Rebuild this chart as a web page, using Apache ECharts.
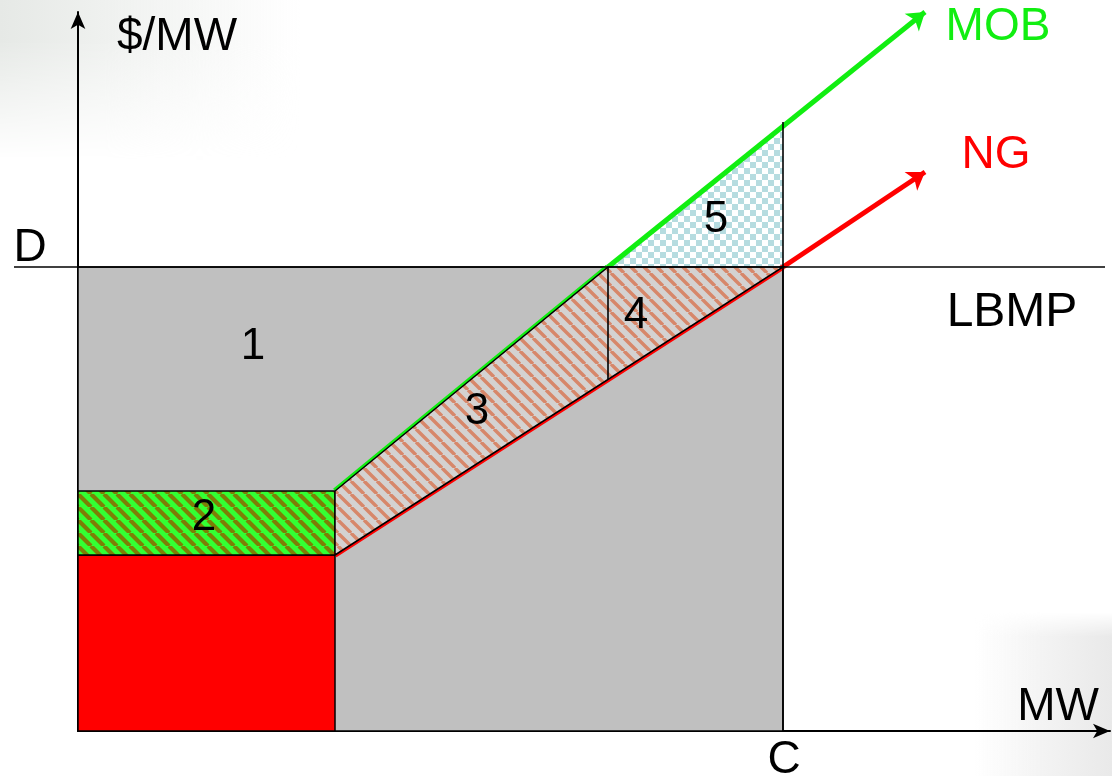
<!DOCTYPE html>
<html>
<head>
<meta charset="utf-8">
<script src="https://cdn.jsdelivr.net/npm/echarts@6/dist/echarts.min.js"></script>
<style>
html,body{margin:0;padding:0;background:#fff;}
body{width:1112px;height:776px;overflow:hidden;position:relative;}
#tl{position:absolute;left:0;top:0;width:300px;height:160px;
 background:linear-gradient(to right, #e6e9e6 0%, #eff1ef 35%, rgba(255,255,255,0) 100%);
 -webkit-mask-image:linear-gradient(to bottom, #000 0%, #000 25%, rgba(0,0,0,0) 100%);
 mask-image:linear-gradient(to bottom, #000 0%, #000 25%, rgba(0,0,0,0) 100%);}
#br{position:absolute;left:975px;top:612px;width:137px;height:164px;
 background:linear-gradient(to right, rgba(255,255,255,0) 0%, #f3f3f3 50%, #e9e9e9 100%);
 -webkit-mask-image:linear-gradient(to bottom, rgba(0,0,0,0) 0%, #000 15%, #000 100%);
 mask-image:linear-gradient(to bottom, rgba(0,0,0,0) 0%, #000 15%, #000 100%);}
#chart{position:absolute;left:0;top:0;width:1112px;height:776px;}
</style>
</head>
<body>
<div id="tl"></div>
<div id="br"></div>
<div id="chart"></div>
<script>
// ---- data (units: MW on x, $/MW on y, arbitrary scale) ----
const xMax = 1032;
const yMax = 719;
const capacityC = 705;       // C
const flatMW = 257;          // end of flat part of the curves
const priceD = 464;          // LBMP level D
const ngFlat = 176;          // NG flat price
const mobFlat = 240;         // MOB flat price
const mobAtD = 530;          // MW where MOB meets D
const ngAtMobD = 352;        // NG price at that MW
const mobAtC = 603;          // MOB price at C
const ngCurve = [[flatMW, ngFlat], [capacityC, priceD], [847, 559]];
const mobCurve = [[flatMW, mobFlat], [mobAtD, priceD], [847, 719]];
const regionNames = ['1', 'red', '2', '5', '3-4'];
const regionPolys = [
  [[0, 0], [capacityC, 0], [capacityC, priceD], [0, priceD]],
  [[0, 0], [flatMW, 0], [flatMW, ngFlat], [0, ngFlat]],
  [[0, ngFlat], [flatMW, ngFlat], [flatMW, mobFlat], [0, mobFlat]],
  [[mobAtD, priceD], [capacityC, priceD], [capacityC, mobAtC]],
  [[flatMW, ngFlat], [capacityC, priceD], [mobAtD, priceD], [flatMW, mobFlat]]
];
const regionLabels = [['1', 175, 384], ['2', 126, 213], ['3', 399, 319], ['4', 558, 415], ['5', 638, 511]];
const curveNames = ['MOB', 'NG'];
const dLineSpan = [-64, 1027];
const vLines = [[[mobAtD, ngAtMobD], [mobAtD, priceD]], [[capacityC, 0], [capacityC, 609]]];

// ---- patterns ----
function hatch(bg, fg, size, lw) {
  const c = document.createElement('canvas'); c.width = size; c.height = size;
  const g = c.getContext('2d');
  g.fillStyle = bg; g.fillRect(0, 0, size, size);
  g.strokeStyle = fg; g.lineWidth = lw;
  g.beginPath();
  for (let k = -1; k <= 1; k++) { g.moveTo(k * size, 0); g.lineTo(k * size + size, size); }
  g.stroke();
  return c;
}
function checker(a, b, cell) {
  const c = document.createElement('canvas'); c.width = cell * 2; c.height = cell * 2;
  const g = c.getContext('2d');
  g.fillStyle = b; g.fillRect(0, 0, cell * 2, cell * 2);
  g.fillStyle = a; g.fillRect(0, 0, cell, cell); g.fillRect(cell, cell, cell, cell);
  return c;
}
const greenHatch = {image: hatch('#33ff33', '#7e7e06', 13, 4.2), repeat: 'repeat'};
const redHatch = {image: hatch('#d4d2d1', '#d7876a', 13, 3.4), repeat: 'repeat'};
const blueCheck = {image: checker('#b6dce0', '#ffffff', 6), repeat: 'repeat'};
const regionStyles = [
  {fill: '#c0c0c0', stroke: '#000', lineWidth: 1.5},
  {fill: '#ff0000', stroke: '#000', lineWidth: 1.5},
  {fill: greenHatch, stroke: '#000', lineWidth: 1.5},
  {fill: blueCheck, stroke: null, lineWidth: 0},
  {fill: redHatch, stroke: '#000', lineWidth: 1.5}
];

const chart = echarts.init(document.getElementById('chart'), null, {renderer: 'canvas'});
const FONT = 'Liberation Sans, Arial, sans-serif';

function polySeries(indices, z) {
  return {
    type: 'custom', coordinateSystem: 'cartesian2d', z: z, silent: true,
    data: indices.map(i => [i]),
    renderItem: function (params, api) {
      const idx = api.value(0);
      const pts = regionPolys[idx].map(p => api.coord(p));
      return {type: 'polygon', shape: {points: pts}, style: Object.assign({}, regionStyles[idx])};
    },
    clip: false
  };
}

const option = {
  animation: false,
  backgroundColor: 'transparent',
  grid: {left: 78, right: 2, top: 12, bottom: 45},
  xAxis: {
    type: 'value', min: 0, max: xMax,
    axisLine: {show: true, symbol: ['none', 'arrow'], symbolSize: [11, 17], lineStyle: {color: '#000', width: 2}},
    axisTick: {show: false}, axisLabel: {show: false}, splitLine: {show: false}
  },
  yAxis: {
    type: 'value', min: 0, max: yMax,
    axisLine: {show: true, symbol: ['none', 'arrow'], symbolSize: [11, 17], lineStyle: {color: '#000', width: 2}},
    axisTick: {show: false}, axisLabel: {show: false}, splitLine: {show: false}
  },
  series: [
    polySeries([0, 1, 2, 3], 1),
    {
      type: 'lines', coordinateSystem: 'cartesian2d', z: 2, silent: true, clip: false,
      lineStyle: {opacity: 1},
      data: [
        {coords: [mobCurve[0], mobCurve[1]], lineStyle: {color: '#11ee11', width: 6, opacity: 1}},
        {coords: [ngCurve[0], ngCurve[1]], lineStyle: {color: '#ff0000', width: 5.5, opacity: 1}}
      ]
    },
    {
      type: 'lines', coordinateSystem: 'cartesian2d', z: 2, silent: true, clip: false,
      symbol: ['none', 'arrow'], symbolSize: 17,
      lineStyle: {opacity: 1},
      data: [
        {coords: [mobCurve[1], mobCurve[2]], lineStyle: {color: '#11ee11', width: 5, opacity: 1}},
        {coords: [ngCurve[1], ngCurve[2]], lineStyle: {color: '#ff0000', width: 5, opacity: 1}}
      ]
    },
    polySeries([4], 3),
    {
      type: 'lines', coordinateSystem: 'cartesian2d', z: 4, silent: true, clip: false,
      lineStyle: {color: '#000', width: 1.6, opacity: 1},
      data: [
        {coords: [[dLineSpan[0], priceD], [dLineSpan[1], priceD]]},
        {coords: vLines[0]},
        {coords: vLines[1]}
      ]
    },
    {
      type: 'scatter', z: 5, silent: true, symbolSize: 0,
      itemStyle: {opacity: 1},
      data: regionLabels.map(r => ({value: [r[1], r[2]], name: r[0]})),
      label: {show: true, position: 'inside', formatter: p => p.name, color: '#000', fontSize: 44, fontFamily: FONT, opacity: 1}
    }
  ],
  graphic: [
    {type: 'text', x: 177, y: 37, style: {text: '$/MW', fontSize: 46, fontFamily: FONT, fill: '#000', align: 'center', verticalAlign: 'middle'}},
    {type: 'text', x: 998, y: 27, style: {text: curveNames[0], fontSize: 46, fontFamily: FONT, fill: '#11ee11', align: 'center', verticalAlign: 'middle'}},
    {type: 'text', x: 996, y: 155, style: {text: curveNames[1], fontSize: 46, fontFamily: FONT, fill: '#ff0000', align: 'center', verticalAlign: 'middle'}},
    {type: 'text', x: 30, y: 248, style: {text: 'D', fontSize: 46, fontFamily: FONT, fill: '#000', align: 'center', verticalAlign: 'middle'}},
    {type: 'text', x: 1012, y: 313, style: {text: 'LBMP', fontSize: 48, fontFamily: FONT, fill: '#000', align: 'center', verticalAlign: 'middle'}},
    {type: 'text', x: 1058, y: 707, style: {text: 'MW', fontSize: 46, fontFamily: FONT, fill: '#000', align: 'center', verticalAlign: 'middle'}},
    {type: 'text', x: 784, y: 760, style: {text: 'C', fontSize: 46, fontFamily: FONT, fill: '#000', align: 'center', verticalAlign: 'middle'}}
  ]
};
chart.setOption(option);
</script>
</body>
</html>
